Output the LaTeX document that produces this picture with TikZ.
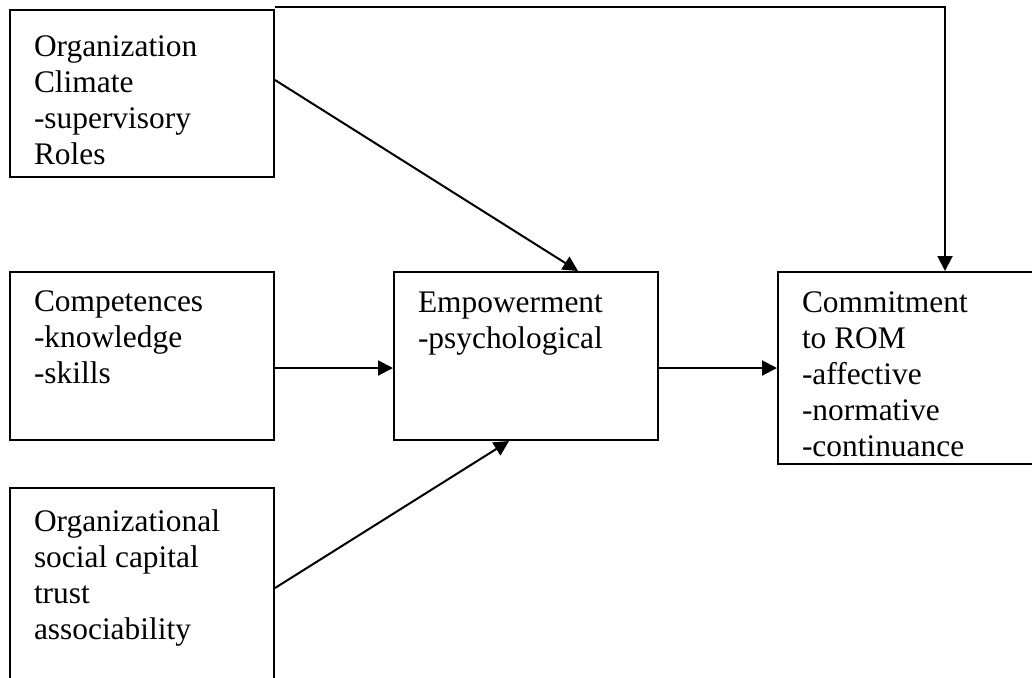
\documentclass[tikz,border=0pt]{standalone}
\usepackage{fontspec}
\setmainfont{Liberation Serif}
\usetikzlibrary{arrows.meta}

% box text: total height, first baseline, lines
\newcommand{\boxtext}[3]{\parbox[t][#1][t]{108pt}{\rule{0pt}{#2}#3}}

\begin{document}
\begin{tikzpicture}[x=0.5pt,y=-0.5pt,
  box/.style={draw, line width=1pt, anchor=north west,
              inner xsep=12pt, inner ysep=0pt,
              font=\fontsize{15.7pt}{18pt}\selectfont},
  arr/.style={line width=1pt, -{Triangle[length=7.5pt,width=7.5pt]}}]

  \useasboundingbox (0,0) rectangle (1032,677);
  \clip (0,0) rectangle (1032,677);

  % antecedents
  \node[box] (climate) at (9,9)
        {\boxtext{83.5pt}{23pt}{Organization\\Climate\\-supervisory\\Roles}};
  \node[box] (compet) at (9,271)
        {\boxtext{84pt}{19.5pt}{Competences\\-knowledge\\-skills}};
  \node[box] (capital) at (9,487)
        {\boxtext{110pt}{21.5pt}{Organizational\\social capital\\trust\\associability}};

  % mediator
  \node[box] (empower) at (393,271)
        {\boxtext{84pt}{20pt}{Empowerment\\-psychological}};

  % outcome
  \node[box] (commit) at (777,271)
        {\boxtext{96pt}{20pt}{Commitment\\to ROM\\-affective\\-normative\\-continuance}};

  % links
  \draw[arr] ([yshift=6.75pt]climate.east) -- ([xshift=26pt]empower.north);
  \draw[arr] ([yshift=-6pt]compet.east) -- ([yshift=-6pt]empower.west);
  \draw[arr] ([yshift=5pt]capital.east) -- ([xshift=-8.5pt]empower.south);
  \draw[arr] ([yshift=-6pt]empower.east) -- (commit.west);
  \draw[arr] ([yshift=1pt]climate.north east) -| ([xshift=17.5pt]commit.north);

\end{tikzpicture}
\end{document}
